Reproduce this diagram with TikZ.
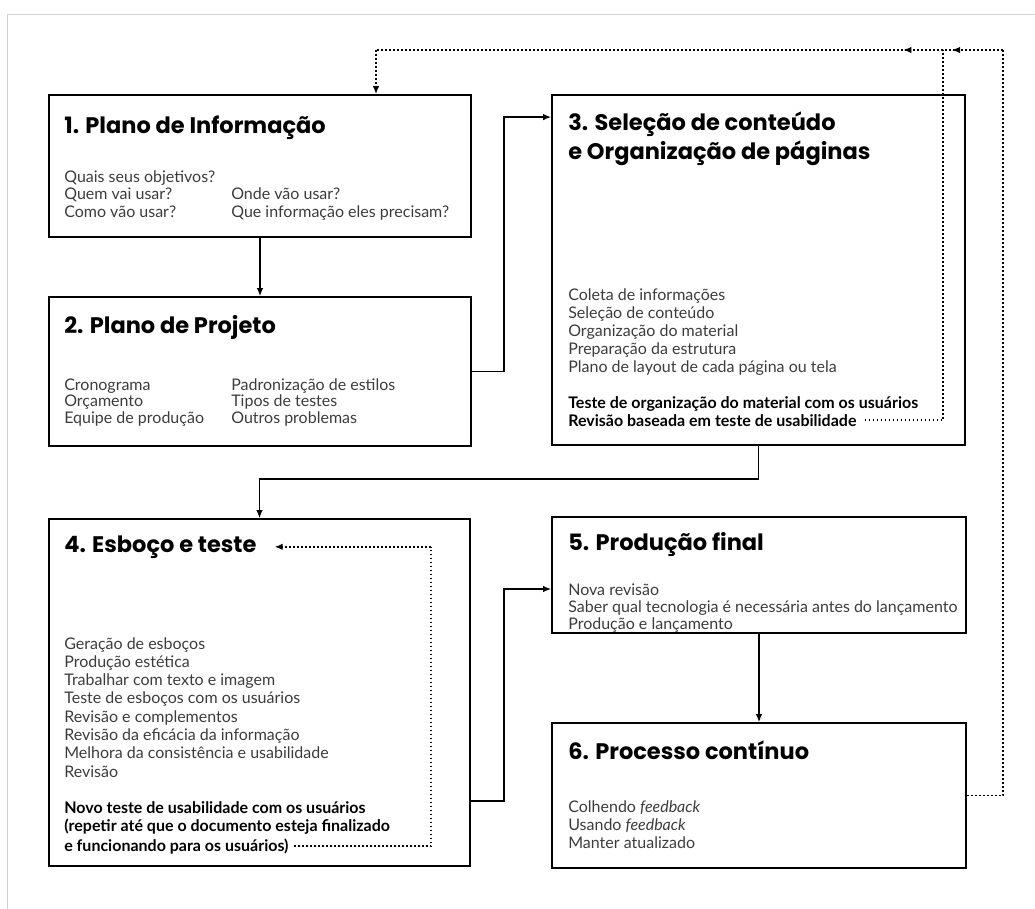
\documentclass[tikz,border=0pt]{standalone}
\usepackage{fontspec}
\setmainfont{Lato}
\newfontfamily\headfont{Poppins}
\usetikzlibrary{positioning,arrows.meta,calc,decorations.markings}
\definecolor{bodygray}{RGB}{60,60,60}
\tikzset{
    box/.style = {
        draw,
        shape=rectangle,
        line width=1.8pt,
        inner sep=0pt
    },
    title/.style = {
        anchor=base west,
        inner sep=0pt,
        align=left,
        font=\headfont\bfseries\fontsize{22.5}{29}\selectfont
    },
    body/.style = {
        anchor=base west,
        inner sep=0pt,
        align=left,
        text=bodygray,
        font=\fontsize{16}{17.5}\selectfont
    },
    note/.style = {
        anchor=base west,
        inner sep=0pt,
        align=left,
        font=\bfseries\fontsize{16}{18}\selectfont
    },
    conn/.style = {
        draw,
        line width=1.2pt,
        ->
    },
    fb/.style = {
        draw,
        line width=1.5pt,
        dash pattern=on 1.8pt off 2.2pt
    },
    midarrow/.style = {
        postaction={decorate},
        decoration={markings, mark=at position #1 with {\arrow{Latex[length=8pt,width=6.5pt]}}}
    },
    >={Latex[length=8pt,width=6.5pt]},
}

\begin{document}
\begin{tikzpicture}[x=1pt,y=-1pt]
    \useasboundingbox (0,0) rectangle (1035,909);
    \draw[gray!35, line width=0.8pt] (1035,14) -- (7,14) -- (7,909);

    % boxes
    \node[box, minimum width=422, minimum height=142] (b1) at (260,166) {};
    \node[box, minimum width=422, minimum height=149] (b2) at (260,371.5) {};
    \node[box, minimum width=413, minimum height=350] (b3) at (758.5,270) {};
    \node[box, minimum width=421, minimum height=347] (b4) at (259.5,692.5) {};
    \node[box, minimum width=414, minimum height=116] (b5) at (759,575) {};
    \node[box, minimum width=414, minimum height=145] (b6) at (759,795.5) {};

    % 1
    \node[title] (t1) at ([xshift=16pt,yshift=-39pt]b1.north west) {1. Plano de Informação};
    \node[body] (l1) at ([xshift=16pt,yshift=-123pt]b1.north west)
        {Quais seus objetivos?\\Quem vai usar?\\Como vão usar?};
    \node[body] (r1) at ([xshift=183pt,yshift=-123pt]b1.north west)
        {Onde vão usar?\\Que informação eles precisam?};

    % 2
    \node[title] (t2) at ([xshift=16pt,yshift=-37pt]b2.north west) {2. Plano de Projeto};
    \node[body, font=\fontsize{16}{16.5}\selectfont] (l2) at ([xshift=16pt,yshift=-127pt]b2.north west)
        {Cronograma\\Orçamento\\Equipe de produção};
    \node[body, font=\fontsize{16}{16.5}\selectfont] (r2) at ([xshift=183pt,yshift=-127pt]b2.north west)
        {Padronização de estilos\\Tipos de testes\\Outros problemas};

    % 3
    \node[title] (t3) at ([xshift=17pt,yshift=-65pt]b3.north west)
        {3. Seleção de conteúdo\\e Organização de páginas};
    \node[body, font=\fontsize{16}{18}\selectfont] (l3) at ([xshift=17pt,yshift=-278pt]b3.north west)
        {Coleta de informações\\Seleção de conteúdo\\Organização do material\\
         Preparação da estrutura\\Plano de layout de cada página ou tela};
    \node[note] (n3) at ([xshift=17pt,yshift=-314pt]b3.north west)
        {Teste de organização do material com os usuários};
    \node[note] (m3) at ([xshift=17pt,yshift=-332pt]b3.north west)
        {Revisão baseada em teste de usabilidade};

    % 4
    \node[title] (t4) at ([xshift=16pt,yshift=-34pt]b4.north west) {4. Esboço e teste};
    \node[body, font=\fontsize{16}{18.3}\selectfont] (l4) at ([xshift=16pt,yshift=-259pt]b4.north west)
        {Geração de esboços\\Produção estética\\Trabalhar com texto e imagem\\
         Teste de esboços com os usuários\\Revisão e complementos\\
         Revisão da eficácia da informação\\Melhora da consistência e usabilidade\\Revisão};
    \node[note] (n4) at ([xshift=16pt,yshift=-313pt]b4.north west)
        {Novo teste de usabilidade com os usuários\\(repetir até que o documento esteja finalizado};
    \node[note] (m4) at ([xshift=16pt,yshift=-333pt]b4.north west)
        {e funcionando para os usuários)};

    % 5
    \node[title] (t5) at ([xshift=17pt,yshift=-34pt]b5.north west) {5. Produção final};
    \node[body, font=\fontsize{16}{17}\selectfont] (l5) at ([xshift=17pt,yshift=-113pt]b5.north west)
        {Nova revisão\\Saber qual tecnologia é necessária antes do lançamento\\Produção e lançamento};

    % 6
    \node[title] (t6) at ([xshift=17pt,yshift=-37pt]b6.north west) {6. Processo contínuo};
    \node[body, font=\fontsize{16}{18}\selectfont] (l6) at ([xshift=17pt,yshift=-126pt]b6.north west)
        {Colhendo \textit{feedback}\\Usando \textit{feedback}\\Manter atualizado};

    % main flow
    \path[conn] (b1.south) -- (b2.north);
    \path[conn] (b2.east) -- ++(32,0) |- ([yshift=-23pt]b3.north west);
    \path[conn] (b3.south) -- ++(0,33) -| (b4.north);
    \path[conn] ([yshift=66pt]b4.south east) -- ++(33,0) |- ([yshift=-14pt]b5.west);
    \path[conn] (b5.south) -- (b6.north);

    % feedback loops
    \coordinate (fbR) at (1003,50);
    \coordinate (fbM) at (943,50);
    \coordinate (fbL) at (376,50);
    \path[fb] (b6.east) -| (fbR);
    \path[fb, midarrow=0.85] (fbR) -- (fbM);
    \path[fb, midarrow=0.07] (fbM) -- (fbL);
    \path[fb, ->] (fbL) -- (fbL |- b1.north);
    \path[fb] ([xshift=8pt]m3.east) -| (fbM);

    \path (b4.east |- t4.east) ++(-40,0) coordinate (c4);
    \path[fb] ([xshift=5pt]m4.east) -| (c4);
    \path[fb, ->] (c4) -- ([xshift=18pt]t4.east);
\end{tikzpicture}
\end{document}
